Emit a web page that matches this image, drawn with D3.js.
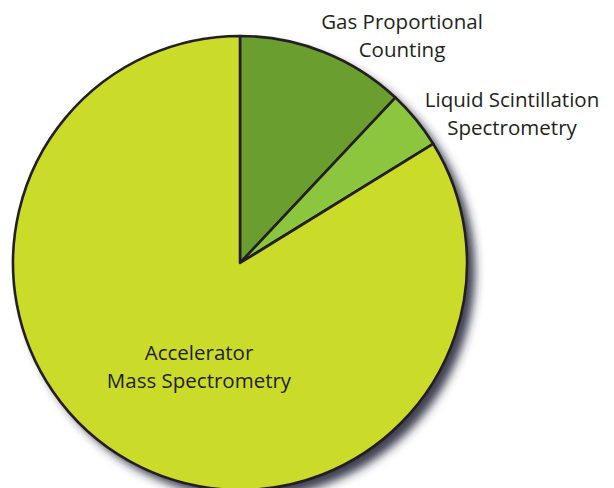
<!DOCTYPE html>
<html>
<head>
<meta charset="utf-8">
<script src="https://cdn.jsdelivr.net/npm/d3@7"></script>
<style>
  body { margin: 0; background: #fff; }
  text { font-family: "Open Sans", Lato, sans-serif; fill: #231f20; }
</style>
</head>
<body>
<svg id="chart"></svg>
<script>
(function () {
var width = 614, height = 488
var svg = d3.select('#chart')
            .attr('width', width)
            .attr('height', height)

// slices, clockwise from 12 o'clock
var methods = ['Gas Proportional\nCounting', 'Liquid Scintillation\nSpectrometry', 'Accelerator\nMass Spectrometry']
var shares = [12, 4.2, 83.8]
var colors = ['#6a9e2f', '#8cc63f', '#cbdb2a']

var cx = 240, cy = 263, radius = 227

var defs = svg.append('defs')
var f = defs.append('filter').attr('id', 'shadow')
    .attr('x', '-20%').attr('y', '-20%').attr('width', '140%').attr('height', '140%')
f.append('feDropShadow')
    .attr('dx', 8).attr('dy', 8).attr('stdDeviation', 5)
    .attr('flood-color', '#2a2a3c').attr('flood-opacity', 0.9)

var pie = d3.pie().sort(null).value((d) => d)
var arc = d3.arc().innerRadius(0).outerRadius(radius)

var g = svg.append('g').attr('transform', 'translate(' + cx + ',' + cy + ')')

// shadow disc under the pie
g.append('circle')
    .attr('r', radius)
    .attr('fill', colors[2])
    .attr('filter', 'url(#shadow)')

g.selectAll('path')
    .data(pie(shares))
    .enter()
    .append('path')
    .attr('d', arc)
    .attr('fill', (d, i) => colors[i])
    .attr('stroke', '#231f20')
    .attr('stroke-width', 2.6)
    .attr('stroke-linejoin', 'round')

// label anchors (centre of first line's baseline)
var labelPos = [[402, 29], [512, 107], [199, 360]]

svg.selectAll('text.lbl')
    .data(methods)
    .enter()
    .append('text')
    .attr('class', 'lbl')
    .attr('text-anchor', 'middle')
    .style('font-size', '20.5px')
    .each(function (d, i) {
        var t = d3.select(this)
        d.split('\n').forEach(function (part, j) {
            t.append('tspan')
                .attr('x', labelPos[i][0])
                .attr('y', labelPos[i][1] + j * 28)
                .text(part)
        })
    })
})();
</script>
</body>
</html>
